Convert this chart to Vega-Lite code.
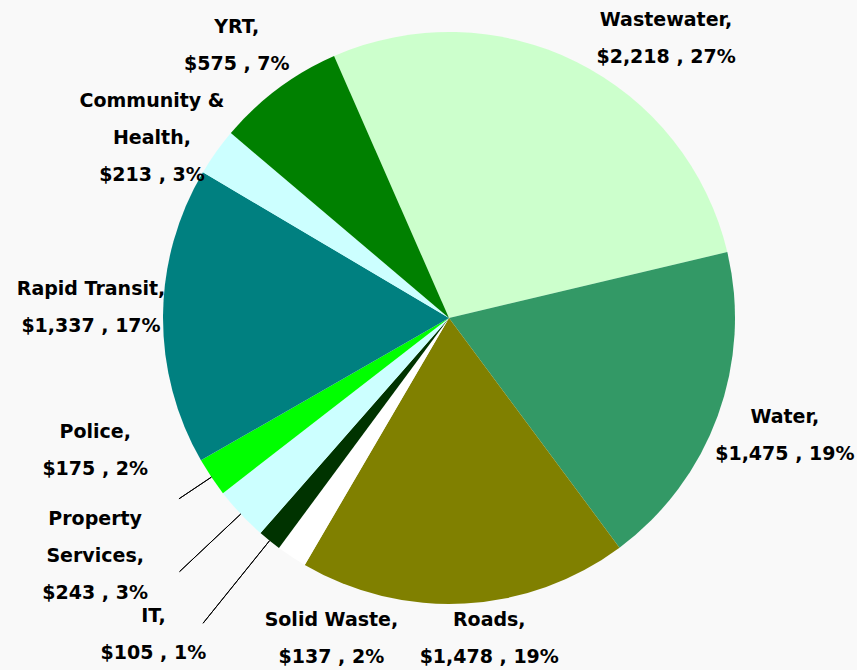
{
  "$schema": "https://vega.github.io/schema/vega-lite/v6.json",
  "width": 816,
  "height": 636,
  "padding": {"left": 41, "top": 0, "right": 0, "bottom": 34},
  "autosize": {"type": "none"},
  "background": "#f9f9f9",
  "config": {"view": {"stroke": null}},
  "data": {
    "values": [
      {"idx": 1, "category": "Wastewater", "value": 2218, "label": "Wastewater,\n$2,218 , 27%"},
      {"idx": 2, "category": "Water", "value": 1475, "label": "Water,\n$1,475 , 19%"},
      {"idx": 3, "category": "Roads", "value": 1478, "label": "Roads,\n$1,478 , 19%"},
      {"idx": 4, "category": "Solid Waste", "value": 137, "label": "Solid Waste,\n$137 , 2%"},
      {"idx": 5, "category": "IT", "value": 105, "label": "IT,\n$105 , 1%"},
      {"idx": 6, "category": "Property Services", "value": 243, "label": "Property\nServices,\n$243 , 3%"},
      {"idx": 7, "category": "Police", "value": 175, "label": "Police,\n$175 , 2%"},
      {"idx": 8, "category": "Rapid Transit", "value": 1337, "label": "Rapid Transit,\n$1,337 , 17%"},
      {"idx": 9, "category": "Community & Health", "value": 213, "label": "Community &\nHealth,\n$213 , 3%"},
      {"idx": 10, "category": "YRT", "value": 575, "label": "YRT,\n$575 , 7%"}
    ]
  },
  "encoding": {
    "theta": {"field": "value", "type": "quantitative", "stack": true, "scale": {"range": [-0.4136, 5.8696]}},
    "order": {"field": "idx", "type": "quantitative"}
  },
  "layer": [
    {
      "mark": {"type": "arc", "outerRadius": 286},
      "encoding": {
        "color": {
          "field": "category",
          "type": "nominal",
          "legend": null,
          "scale": {
            "domain": ["Wastewater", "Water", "Roads", "Solid Waste", "IT", "Property Services", "Police", "Rapid Transit", "Community & Health", "YRT"],
            "range": ["#CCFFCC", "#339966", "#808000", "#FFFFFF", "#003300", "#CCFFFF", "#00FF00", "#008080", "#CCFFFF", "#008000"]
          }
        }
      }
    },
    {
      "mark": {"type": "arc", "innerRadius": 286, "outerRadius": 392, "padAngle": 1.5, "fill": "transparent", "stroke": "#000000", "strokeWidth": 1},
      "encoding": {"strokeOpacity": {"condition": {"test": "datum.category === 'IT'", "value": 1}, "value": 0}}
    },
    {
      "mark": {"type": "arc", "innerRadius": 286, "outerRadius": 370, "padAngle": 1.5, "fill": "transparent", "stroke": "#000000", "strokeWidth": 1},
      "encoding": {"strokeOpacity": {"condition": {"test": "datum.category === 'Property Services'", "value": 1}, "value": 0}}
    },
    {
      "mark": {"type": "arc", "innerRadius": 286, "outerRadius": 325, "padAngle": 1.5, "fill": "transparent", "stroke": "#000000", "strokeWidth": 1},
      "encoding": {"strokeOpacity": {"condition": {"test": "datum.category === 'Police'", "value": 1}, "value": 0}}
    },
    {
      "mark": {"type": "text", "radius": 350, "dx": 61, "dy": 15.5, "font": "DejaVu Sans", "fontWeight": "bold", "fontSize": 19, "lineBreak": "\n", "lineHeight": 37, "align": "center", "baseline": "middle", "color": "#000000"},
      "encoding": {"text": {"condition": {"test": "datum.category === 'Wastewater'", "field": "label"}, "value": ""}}
    },
    {
      "mark": {"type": "text", "radius": 350, "dx": 7, "dy": -20.5, "font": "DejaVu Sans", "fontWeight": "bold", "fontSize": 19, "lineBreak": "\n", "lineHeight": 37, "align": "center", "baseline": "middle", "color": "#000000"},
      "encoding": {"text": {"condition": {"test": "datum.category === 'Water'", "field": "label"}, "value": ""}}
    },
    {
      "mark": {"type": "text", "radius": 350, "dx": 21, "dy": -47.5, "font": "DejaVu Sans", "fontWeight": "bold", "fontSize": 19, "lineBreak": "\n", "lineHeight": 37, "align": "center", "baseline": "middle", "color": "#000000"},
      "encoding": {"text": {"condition": {"test": "datum.category === 'Roads'", "field": "label"}, "value": ""}}
    },
    {
      "mark": {"type": "text", "radius": 350, "dx": 75, "dy": 9.5, "font": "DejaVu Sans", "fontWeight": "bold", "fontSize": 19, "lineBreak": "\n", "lineHeight": 37, "align": "center", "baseline": "middle", "color": "#000000"},
      "encoding": {"text": {"condition": {"test": "datum.category === 'Solid Waste'", "field": "label"}, "value": ""}}
    },
    {
      "mark": {"type": "text", "radius": 350, "dx": -76, "dy": 25.5, "font": "DejaVu Sans", "fontWeight": "bold", "fontSize": 19, "lineBreak": "\n", "lineHeight": 37, "align": "center", "baseline": "middle", "color": "#000000"},
      "encoding": {"text": {"condition": {"test": "datum.category === 'IT'", "field": "label"}, "value": ""}}
    },
    {
      "mark": {"type": "text", "radius": 350, "dx": -99, "dy": -39, "font": "DejaVu Sans", "fontWeight": "bold", "fontSize": 19, "lineBreak": "\n", "lineHeight": 37, "align": "center", "baseline": "middle", "color": "#000000"},
      "encoding": {"text": {"condition": {"test": "datum.category === 'Property Services'", "field": "label"}, "value": ""}}
    },
    {
      "mark": {"type": "text", "radius": 350, "dx": -63, "dy": -80.5, "font": "DejaVu Sans", "fontWeight": "bold", "fontSize": 19, "lineBreak": "\n", "lineHeight": 37, "align": "center", "baseline": "middle", "color": "#000000"},
      "encoding": {"text": {"condition": {"test": "datum.category === 'Police'", "field": "label"}, "value": ""}}
    },
    {
      "mark": {"type": "text", "radius": 350, "dx": -8, "dy": -26.5, "font": "DejaVu Sans", "fontWeight": "bold", "fontSize": 19, "lineBreak": "\n", "lineHeight": 37, "align": "center", "baseline": "middle", "color": "#000000"},
      "encoding": {"text": {"condition": {"test": "datum.category === 'Rapid Transit'", "field": "label"}, "value": ""}}
    },
    {
      "mark": {"type": "text", "radius": 350, "dx": -12, "dy": -14, "font": "DejaVu Sans", "fontWeight": "bold", "fontSize": 19, "lineBreak": "\n", "lineHeight": 37, "align": "center", "baseline": "middle", "color": "#000000"},
      "encoding": {"text": {"condition": {"test": "datum.category === 'Community & Health'", "field": "label"}, "value": ""}}
    },
    {
      "mark": {"type": "text", "radius": 350, "dx": -3, "dy": -10.5, "font": "DejaVu Sans", "fontWeight": "bold", "fontSize": 19, "lineBreak": "\n", "lineHeight": 37, "align": "center", "baseline": "middle", "color": "#000000"},
      "encoding": {"text": {"condition": {"test": "datum.category === 'YRT'", "field": "label"}, "value": ""}}
    }
  ]
}
